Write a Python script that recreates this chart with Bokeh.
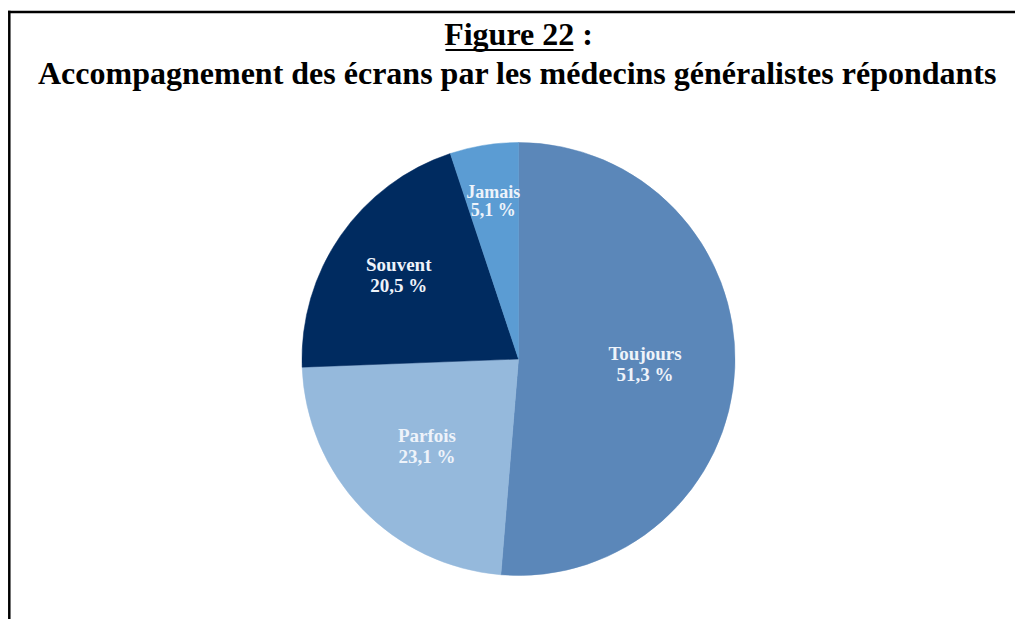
import math
from bokeh.plotting import figure
from bokeh.models import Range1d
from bokeh.core.properties import value
from bokeh.embed import file_html
from bokeh.resources import INLINE

# ---- data ----
categories = ["Toujours", "Parfois", "Souvent", "Jamais"]
percentages = [51.3, 23.1, 20.5, 5.1]
colors = ["#5b87b9", "#95b9dc", "#002b60", "#5b9cd3"]
title_line1 = "Figure 22 :"
title_line2 = "Accompagnement des écrans par les médecins généralistes répondants"

# ---- layout (page pixel helpers) ----
W, H = 1015, 619
def X(px):
    return px
def Y(py):
    return H - py
def TY(py, size):
    # baseline correction for svg text placement
    return Y(py - 0.37 * size)

p = figure(width=W, height=H, output_backend="svg", toolbar_location=None,
           x_range=Range1d(0, W), y_range=Range1d(0, H), min_border=0)
p.axis.visible = False
p.grid.visible = False
p.outline_line_color = None
p.background_fill_color = "white"
p.border_fill_color = "white"

# frame lines (left and top)
p.line([X(7.5), X(1016)], [Y(11.5), Y(11.5)], line_color="black", line_width=2.5)
p.line([X(8.8), X(8.8)], [Y(10.3), Y(625)], line_color="black", line_width=2.5)

# title
FONT = value("Liberation Serif")
p.text(x=[X(518)], y=[TY(45, 32)], text=[title_line1], text_font=FONT, text_font_style="bold",
       text_font_size="32px", text_align="center", text_baseline="alphabetic", text_color="black")
p.line([X(445), X(573)], [Y(49.5), Y(49.5)], line_color="black", line_width=2.2)
p.text(x=[X(517)], y=[TY(84, 32)], text=[title_line2], text_font=FONT, text_font_style="bold",
       text_font_size="32px", text_align="center", text_baseline="alphabetic", text_color="black")

# pie
cx, cy, r = X(518), Y(358.5), 216.5
total = sum(percentages)
cum = 0.0
starts, ends, mids = [], [], []
for v in percentages:
    a0 = math.pi / 2 - 2 * math.pi * cum / total
    cum += v
    a1 = math.pi / 2 - 2 * math.pi * cum / total
    starts.append(a0)
    ends.append(a1)
    mids.append((a0 + a1) / 2)

p.wedge(x=[cx] * len(percentages), y=[cy] * len(percentages), radius=r,
        start_angle=starts, end_angle=ends, direction="clock",
        fill_color=colors, line_color=colors, line_width=0.5)

# labels
label_frac = [0.585, 0.585, 0.673, 0.733]
label_size = [19, 19, 19, 18]
label_gap = [21, 21, 21, 18]
for cat, v, m, f, s, g in zip(categories, percentages, mids, label_frac, label_size, label_gap):
    lx = cx + r * f * math.cos(m)
    ly_page = H - (cy + r * f * math.sin(m))
    pct = ("%.1f %%" % v).replace(".", ",")
    p.text(x=[lx], y=[TY(ly_page - 4, s)], text=[cat], text_font=FONT,
           text_font_style="bold", text_font_size="%dpx" % s, text_align="center",
           text_baseline="alphabetic", text_color="#eef3fa")
    p.text(x=[lx], y=[TY(ly_page - 4 + g, s)], text=[pct], text_font=FONT,
           text_font_style="bold", text_font_size="%dpx" % s, text_align="center",
           text_baseline="alphabetic", text_color="#eef3fa")

open("out.html", "w").write(file_html(p, INLINE))
